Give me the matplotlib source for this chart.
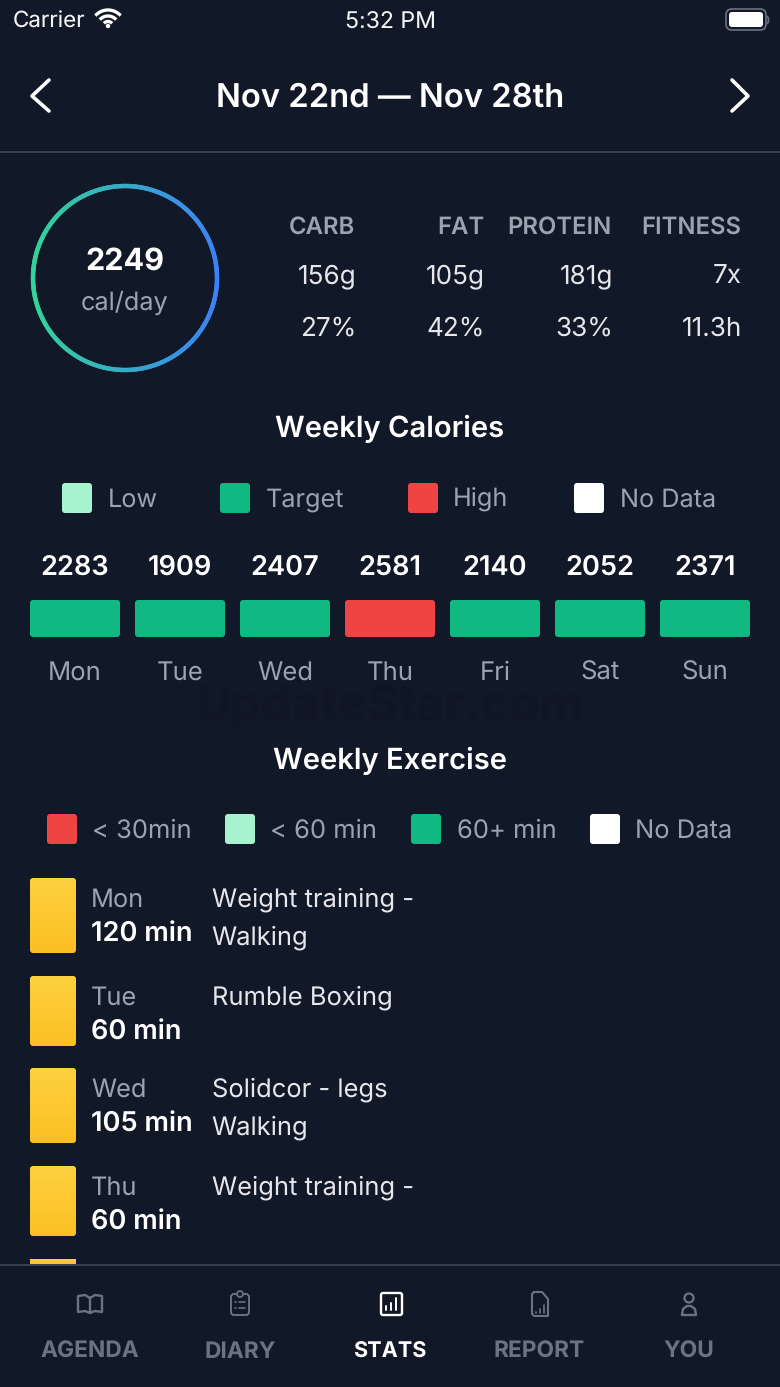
import numpy as np
import matplotlib
matplotlib.use('Agg')
import matplotlib.pyplot as plt
from matplotlib.collections import LineCollection
from matplotlib.patches import FancyBboxPatch, Circle, Arc, Rectangle
from matplotlib.colors import LinearSegmentedColormap

plt.rcParams['font.family'] = ['Inter', 'DejaVu Sans']
plt.rcParams['text.hinting'] = 'no_hinting'

# Data
week_title = 'Nov 22nd — Nov 28th'
avg_calories = 2249
macro_names = ['CARB', 'FAT', 'PROTEIN', 'FITNESS']
macro_amounts = ['156g', '105g', '181g', '7x']
macro_shares = ['27%', '42%', '33%', '11.3h']
days = ['Mon', 'Tue', 'Wed', 'Thu', 'Fri', 'Sat', 'Sun']
calories = [2283, 1909, 2407, 2581, 2140, 2052, 2371]
calorie_status = ['Target', 'Target', 'Target', 'High', 'Target', 'Target', 'Target']
exercise_days = ['Mon', 'Tue', 'Wed', 'Thu']
exercise_minutes = [120, 60, 105, 60]
exercise_names = [['Weight training -', 'Walking'], ['Rumble Boxing'],
                  ['Solidcor - legs', 'Walking'], ['Weight training -']]
tabs = ['AGENDA', 'DIARY', 'STATS', 'REPORT', 'YOU']

BG = '#111827'
WHITE = '#ffffff'
GREY = '#9ca3af'
DIM = '#6b7280'
LINE = '#374151'
COLORS = {'Low': '#a7f3d0', 'Target': '#10b981', 'High': '#ef4444', 'No Data': '#ffffff'}

fig = plt.figure(figsize=(7.8, 13.87), dpi=100, facecolor=BG)
ax = fig.add_axes([0, 0, 1, 1])
ax.set_facecolor(BG)
ax.axis('off')


def txt(x, y, s, size, color=WHITE, weight='normal', ha='left'):
    return ax.text(x, y, s, fontsize=size, color=color, fontweight=weight, ha=ha, va='baseline')


def box(x, y, w, h, color, r=3, z=2):
    p = FancyBboxPatch((x + r, y + r), w - 2 * r, h - 2 * r, boxstyle='round,pad=%f,rounding_size=%f' % (r, r),
                       fc=color, ec='none', zorder=z)
    ax.add_patch(p)
    return p


def line(xs, ys, color, lw=2.0):
    ax.plot(xs, ys, color=color, lw=lw, solid_capstyle='round', solid_joinstyle='round')


# status bar
txt(13, 28, 'Carrier', 16.1, '#f3f4f6')
txt(390, 28, '5:32 PM', 16.6, '#f3f4f6', ha='center')
for r in [17, 11, 5.5]:
    ax.add_patch(Arc((108, 27), r * 2, r * 2, theta1=222, theta2=318, ec=WHITE, lw=2.4))
ax.add_patch(Circle((108, 26), 2.2, fc=WHITE, ec='none'))
ax.add_patch(FancyBboxPatch((731, 14), 30, 11, boxstyle='round,pad=5,rounding_size=6', fc=BG, ec='#6b7280', lw=1.2))
box(729, 12, 34, 15, WHITE, r=3, z=3)
ax.add_patch(Arc((767, 20), 3, 7, theta1=-90, theta2=90, ec='#6b7280', lw=1.2))

# header
txt(390, 107, week_title, 23.6, WHITE, 'semibold', ha='center')
line([49, 32, 49], [80, 96, 111], WHITE, 2.6)
line([732, 748, 732], [80, 96, 111], WHITE, 2.6)
ax.plot([0, 780], [152, 152], color=LINE, lw=1.4)

# ring
th = np.linspace(0, 2 * np.pi, 361)
rx = 125 + 92 * np.cos(th)
ry = 278 + 92 * np.sin(th)
segs = [[(rx[i], ry[i]), (rx[i + 1], ry[i + 1])] for i in range(360)]
cm = LinearSegmentedColormap.from_list('ring', ['#34d399', '#3b82f6'])
lc = LineCollection(segs, colors=cm((rx[:-1] - 33) / 184), linewidths=3.2, capstyle='round')
ax.add_collection(lc)
txt(125, 270, str(avg_calories), 22, WHITE, 'bold', ha='center')
txt(125, 310, 'cal/day', 18.2, GREY, ha='center')

# macro table
macro_right = [355, 484, 612, 741]
for x, n, a, s in zip(macro_right, macro_names, macro_amounts, macro_shares):
    txt(x, 234, n, 17.2, GREY, 'semibold', ha='right')
    txt(x + 1, 283, a, 18.8, '#e5e7eb', ha='right')
    txt(x + 1, 336, s, 18.8, '#e5e7eb', ha='right')

# watermark
txt(390, 720, 'UpdateStar.com', 35, '#101623', 'bold', ha='center')

# weekly calories
txt(390, 437, 'Weekly Calories', 21, WHITE, 'semibold', ha='center')
for x, tx, name in zip([62, 220, 408, 574], [108, 266, 453, 620], ['Low', 'Target', 'High', 'No Data']):
    box(x, 483, 30, 30, COLORS[name])
    txt(tx, 507, name, 18.2, GREY)
for i, (d, c, s) in enumerate(zip(days, calories, calorie_status)):
    x = 30 + 105 * i
    box(x, 600, 90, 37, COLORS[s])
    txt(x + 45, 575, str(c), 19.6, WHITE, 'semibold', ha='center')
    txt(x + 45, 680, d, 18.5, GREY, ha='center')

# weekly exercise
txt(390, 769, 'Weekly Exercise', 21, WHITE, 'semibold', ha='center')
for x, tx, name, key in zip([47, 225, 411, 590], [92, 270, 457, 635],
                            ['< 30min', '< 60 min', '60+ min', 'No Data'],
                            ['High', 'Low', 'Target', 'No Data']):
    box(x, 814, 30, 30, COLORS[key])
    txt(tx, 838, name, 18.4, GREY)

gold = LinearSegmentedColormap.from_list('gold', ['#fdd13f', '#fbbf24'])
grad = np.linspace(0, 1, 64).reshape(-1, 1)
row_top = [878, 976, 1068, 1166]
row_height = [75, 70, 75, 70]
for top, h, d, m, names in zip(row_top, row_height, exercise_days, exercise_minutes, exercise_names):
    p = box(30, top, 46, h, 'none', r=3)
    im = ax.imshow(grad, cmap=gold, extent=(30, 76, top + h, top), aspect='auto', zorder=2)
    im.set_clip_path(p)
    txt(91, top + 29, d, 18.3, GREY)
    txt(91, top + 64, '%d min' % m, 19.6, WHITE, 'semibold')
    for j, n in enumerate(names):
        txt(211.5, top + 28 + 38 * j, n, 18.4, '#e5e7eb')

# bottom tab bar, covers the scrolled list
ax.add_patch(Rectangle((0, 1265), 780, 122, fc=BG, ec='none', zorder=4))
im = ax.imshow(grad, cmap=gold, extent=(30, 76, 1265, 1259), aspect='auto', zorder=2)
ax.plot([0, 780], [1265, 1265], color=LINE, lw=1.4, zorder=5)
tab_x = [90, 240, 390, 539, 689]
for x, name in zip(tab_x, tabs):
    on = name == 'STATS'
    t = txt(x, 1358, name, 15.6 if on else 16.4, WHITE if on else DIM, 'bold', ha='center')
    t.set_zorder(6)


def icon(xs, ys, color, lw=1.7):
    ax.plot(xs, ys, color=color, lw=lw, solid_capstyle='round', solid_joinstyle='round', zorder=6)


# book
icon([90, 90], [1298, 1313], DIM)
icon([90, 85, 78, 78, 85, 90, 95, 102, 102, 95, 90],
     [1298, 1295, 1296, 1312, 1311, 1313, 1311, 1312, 1296, 1295, 1298], DIM)
# clipboard
box(231, 1294, 18, 21, BG, r=3, z=5).set(ec=DIM, lw=1.4)
ax.add_patch(Circle((240, 1294), 3, fc=BG, ec=DIM, lw=1.3, zorder=6))
for yy in [1302, 1308]:
    icon([235, 236], [yy, yy], DIM, 1.2)
    icon([239, 245], [yy, yy], DIM, 1.2)
# stats (active)
box(381, 1293, 21, 22, BG, r=2, z=5).set(ec=WHITE, lw=1.7)
for xx, top in zip([386, 391, 396], [1306, 1303, 1298]):
    icon([xx, xx], [1310, top], WHITE, 1.4)
# report
icon([534, 542, 548, 548, 534, 532, 532, 534], [1292, 1292, 1299, 1316, 1316, 1314, 1294, 1292], DIM, 1.5)
for xx, top in zip([534.5, 539, 543], [1312, 1309, 1305]):
    icon([xx + 1, xx + 1], [1312.5, top], DIM, 1.2)
# person
ax.add_patch(Circle((689, 1298), 4.5, fc=BG, ec=DIM, lw=1.6, zorder=6))
icon([682, 683, 687, 691, 695, 696, 682], [1315, 1309, 1306, 1306, 1309, 1315, 1315], DIM)

ax.set_xlim(0, 780)
ax.set_ylim(1387, 0)
fig.savefig('out.png', dpi=100, facecolor=BG)
